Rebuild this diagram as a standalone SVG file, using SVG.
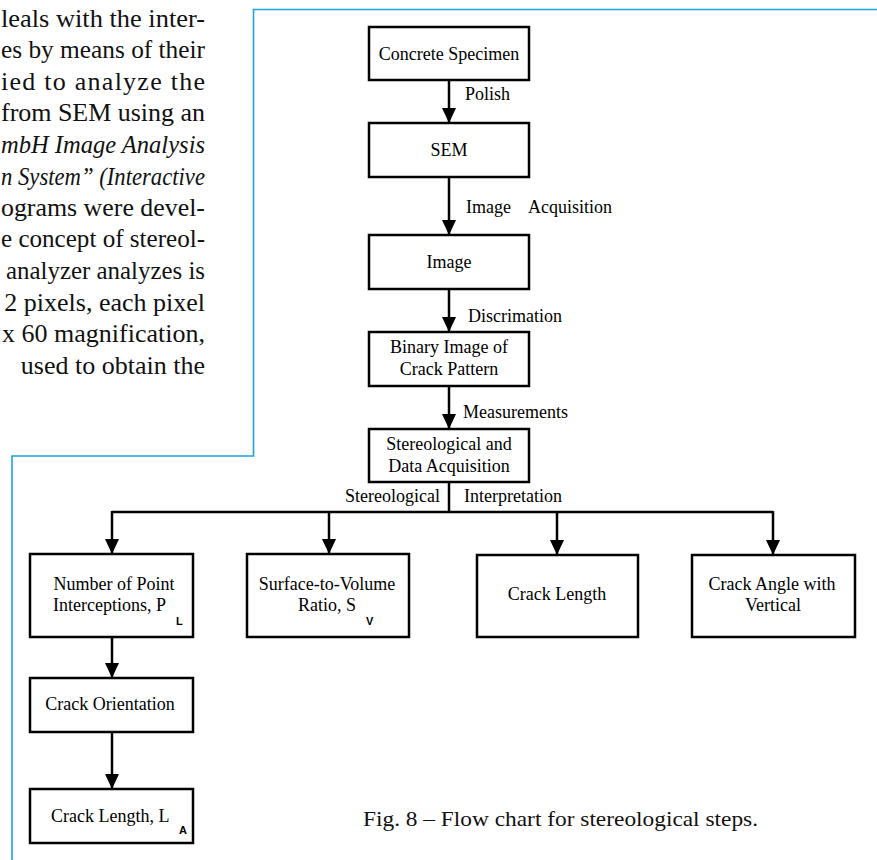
<svg xmlns="http://www.w3.org/2000/svg" width="877" height="860" viewBox="0 0 877 860">
<style>
.box{fill:#fff;stroke:#000;stroke-width:2.5}
.t{font-family:"Liberation Serif",serif;font-size:18px;fill:#000}
.c{text-anchor:middle}
.sub{font-family:"Liberation Sans",sans-serif;font-size:11px;font-weight:bold;fill:#000}
.para{font-family:"Liberation Serif",serif;font-size:26px;fill:#111}
.pe{font-family:"Liberation Serif",serif;font-size:26px;fill:#111;text-anchor:end}
.it{font-style:italic}
.con{fill:none;stroke:#000;stroke-width:2.5}
.frame{fill:none;stroke:#1ea3dd;stroke-width:1.6}
</style>
<defs>
<marker id="ah" markerUnits="userSpaceOnUse" markerWidth="16" markerHeight="14" refX="15" refY="7" orient="auto">
<path d="M0,0 L15,7 L0,14 z" fill="#000"/>
</marker>
</defs>
<rect width="877" height="860" fill="#fff"/>
<g id="paragraph">
<text class="para" x="1" y="27" textLength="204" lengthAdjust="spacingAndGlyphs">leals with the inter-</text>
<text class="para" x="1" y="58" textLength="204" lengthAdjust="spacingAndGlyphs">es by means of their</text>
<text class="para" x="1" y="90" textLength="204" lengthAdjust="spacing">ied to analyze the</text>
<text class="para" x="1" y="121" textLength="204" lengthAdjust="spacing">from SEM using an</text>
<text class="para it" x="1" y="153" textLength="204" lengthAdjust="spacingAndGlyphs">mbH Image Analysis</text>
<text class="para it" x="1" y="185" textLength="204" lengthAdjust="spacingAndGlyphs">n System” (Interactive</text>
<text class="para" x="1" y="216" textLength="204" lengthAdjust="spacingAndGlyphs">ograms were devel-</text>
<text class="para" x="1" y="247" textLength="204" lengthAdjust="spacingAndGlyphs">e concept of stereol-</text>
<text class="para" x="6" y="279" textLength="199" lengthAdjust="spacingAndGlyphs">analyzer analyzes is</text>
<text class="pe" x="205" y="311">2 pixels, each pixel</text>
<text class="pe" x="205" y="342">x 60 magnification,</text>
<text class="pe" x="205" y="374">used to obtain the</text>
</g>
<path class="frame" d="M877,9.5 H253.5 V456 H12 V860"/>
<g id="connectors">
<line class="con" x1="449" y1="80" x2="449" y2="123" marker-end="url(#ah)"/>
<line class="con" x1="449" y1="177" x2="449" y2="235" marker-end="url(#ah)"/>
<line class="con" x1="449" y1="289" x2="449" y2="332" marker-end="url(#ah)"/>
<line class="con" x1="449" y1="386" x2="449" y2="429" marker-end="url(#ah)"/>
<path class="con" d="M449,482 V512 M112,512 H773"/>
<line class="con" x1="112" y1="511" x2="112" y2="554" marker-end="url(#ah)"/>
<line class="con" x1="329" y1="511" x2="329" y2="554" marker-end="url(#ah)"/>
<line class="con" x1="557" y1="511" x2="557" y2="555" marker-end="url(#ah)"/>
<line class="con" x1="773" y1="511" x2="773" y2="555" marker-end="url(#ah)"/>
<line class="con" x1="112" y1="637" x2="112" y2="678" marker-end="url(#ah)"/>
<line class="con" x1="112" y1="732" x2="112" y2="789" marker-end="url(#ah)"/>
<text class="t" x="465" y="100">Polish</text>
<text class="t" x="466" y="213">Image <tspan x="528">Acquisition</tspan></text>
<text class="t" x="468" y="322">Discrimation</text>
<text class="t" x="463" y="418">Measurements</text>
<text class="t" x="440" y="502" text-anchor="end">Stereological</text>
<text class="t" x="464" y="502">Interpretation</text>
</g>
<g id="concrete">
<rect class="box" x="369" y="27" width="160" height="53"/>
<text class="t c" x="449" y="60">Concrete Specimen</text>
</g>
<g id="sem">
<rect class="box" x="369" y="123" width="160" height="54"/>
<text class="t c" x="449" y="156">SEM</text>
</g>
<g id="image">
<rect class="box" x="369" y="235" width="160" height="54"/>
<text class="t c" x="449" y="268">Image</text>
</g>
<g id="binary">
<rect class="box" x="369" y="332" width="160" height="54"/>
<text class="t c" x="449" y="353">Binary Image of</text>
<text class="t c" x="449" y="375">Crack Pattern</text>
</g>
<g id="stereo">
<rect class="box" x="369" y="429" width="160" height="53"/>
<text class="t c" x="449" y="450">Stereological and</text>
<text class="t c" x="449" y="472">Data Acquisition</text>
</g>
<g id="points">
<rect class="box" x="30" y="554" width="163" height="83"/>
<text class="t c" x="114" y="590">Number of Point</text>
<text class="t" x="53" y="611">Interceptions, P</text>
<text class="sub" x="176" y="625">L</text>
</g>
<g id="surface">
<rect class="box" x="247" y="554" width="162" height="83"/>
<text class="t c" x="327" y="590">Surface-to-Volume</text>
<text class="t" x="298" y="611">Ratio, S</text>
<text class="sub" x="366" y="625">V</text>
</g>
<g id="cracklength">
<rect class="box" x="477" y="555" width="161" height="82"/>
<text class="t c" x="557" y="600">Crack Length</text>
</g>
<g id="crackangle">
<rect class="box" x="692" y="555" width="163" height="82"/>
<text class="t c" x="772" y="590">Crack Angle with</text>
<text class="t c" x="773" y="611">Vertical</text>
</g>
<g id="orientation">
<rect class="box" x="30" y="678" width="163" height="54"/>
<text class="t c" x="110" y="710">Crack Orientation</text>
</g>
<g id="lengthLA">
<rect class="box" x="30" y="789" width="163" height="54"/>
<text class="t" x="51" y="822">Crack Length, L</text>
<text class="sub" x="179" y="834">A</text>
</g>
<text id="caption" x="363" y="826" font-family="'Liberation Serif',serif" font-size="22" textLength="395" lengthAdjust="spacingAndGlyphs" fill="#111">Fig. 8 – Flow chart for stereological steps.</text>
</svg>
